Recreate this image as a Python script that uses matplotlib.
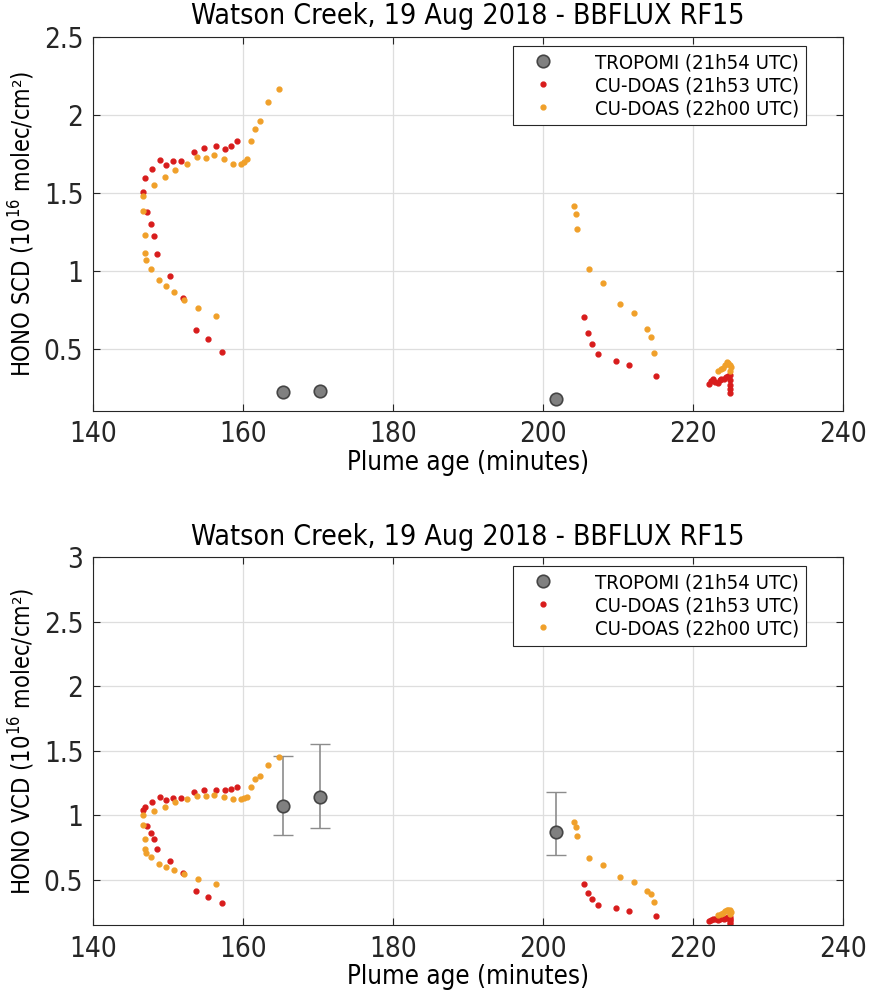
import matplotlib
matplotlib.use("Agg")
import matplotlib.pyplot as plt
from matplotlib.ticker import FormatStrFormatter, FixedLocator

plt.rcParams['font.family'] = ['DejaVu Sans']
plt.rcParams['font.stretch'] = 'condensed'

# TROPOMI overpass values (plume age in minutes)
trop_age = [165.3, 170.3, 201.8]
trop_scd = [0.222, 0.231, 0.180]
trop_vcd = [1.074, 1.140, 0.868]
trop_vcd_lo = [0.850, 0.900, 0.690]
trop_vcd_hi = [1.462, 1.550, 1.180]

# CU-DOAS, 21h53 UTC
red_age = [157.2, 155.4, 153.7, 152.0, 150.3, 148.6, 148.1, 147.7, 147.2, 146.7,
           146.97, 147.9, 148.9, 149.8, 150.7, 151.8, 153.5, 154.8, 156.4, 157.6,
           158.4, 159.2,
           205.5, 206.0, 206.6, 207.4, 209.7, 211.5, 215.1,
           222.1, 222.4, 222.7, 223.0, 223.3, 223.6, 223.8, 224.1, 224.4, 224.7,
           224.9, 224.9, 224.9, 224.9, 224.95]
red_scd = [0.481, 0.564, 0.624, 0.829, 0.970, 1.111, 1.222, 1.299, 1.378, 1.506,
           1.596, 1.654, 1.709, 1.680, 1.703, 1.705, 1.765, 1.790, 1.799, 1.782,
           1.803, 1.831,
           0.707, 0.602, 0.530, 0.465, 0.423, 0.397, 0.329,
           0.275, 0.295, 0.310, 0.290, 0.285, 0.300, 0.310, 0.305, 0.320, 0.330,
           0.335, 0.300, 0.270, 0.245, 0.220]
red_vcd = [0.318, 0.369, 0.411, 0.550, 0.648, 0.736, 0.814, 0.865, 0.917, 1.040,
           1.062, 1.100, 1.140, 1.121, 1.134, 1.136, 1.178, 1.196, 1.200, 1.194,
           1.204, 1.220,
           0.470, 0.400, 0.351, 0.302, 0.279, 0.258, 0.220,
           0.180, 0.190, 0.200, 0.195, 0.190, 0.200, 0.205, 0.200, 0.205, 0.210,
           0.215, 0.200, 0.185, 0.170, 0.155]

# CU-DOAS, 22h00 UTC
org_age = [164.8, 163.4, 162.3, 161.6, 161.1, 160.6, 160.1, 159.7, 158.7, 157.5,
           156.2, 155.1, 153.9, 152.5, 151.0, 149.6, 148.1, 146.7, 146.7, 146.9,
           147.0, 147.1, 147.7, 148.8, 149.8, 150.8, 152.1, 154.0, 156.4,
           204.1, 204.4, 204.6, 206.1, 208.0, 210.3, 212.1, 213.9, 214.4, 214.8,
           223.4, 223.7, 224.0, 224.3, 224.5, 224.7, 224.9, 225.05, 225.0]
org_scd = [2.164, 2.083, 1.963, 1.912, 1.833, 1.715, 1.696, 1.688, 1.683, 1.715,
           1.741, 1.726, 1.728, 1.683, 1.649, 1.600, 1.549, 1.483, 1.387, 1.228,
           1.113, 1.068, 1.013, 0.944, 0.904, 0.867, 0.816, 0.765, 0.709,
           1.419, 1.363, 1.267, 1.010, 0.923, 0.790, 0.731, 0.628, 0.580, 0.474,
           0.357, 0.370, 0.380, 0.395, 0.415, 0.410, 0.400, 0.385, 0.360]
org_vcd = [1.450, 1.390, 1.307, 1.279, 1.222, 1.144, 1.134, 1.126, 1.124, 1.144,
           1.160, 1.147, 1.150, 1.124, 1.100, 1.067, 1.036, 1.002, 0.925, 0.819,
           0.736, 0.710, 0.674, 0.625, 0.599, 0.576, 0.543, 0.506, 0.467,
           0.946, 0.909, 0.842, 0.669, 0.612, 0.522, 0.483, 0.416, 0.390, 0.330,
           0.225, 0.235, 0.245, 0.255, 0.265, 0.270, 0.265, 0.250, 0.235]

red_c = '#d81c1c'
org_c = '#f0a02a'
title = 'Watson Creek, 19 Aug 2018 - BBFLUX RF15'

fig = plt.figure(figsize=(8.69, 9.96), dpi=100)
ax1 = fig.add_axes([0.107, 0.5877, 0.863, 0.3752])
ax2 = fig.add_axes([0.107, 0.0713, 0.863, 0.369])


def style(ax, ylim, yticks, ylabel):
    ax.set_xlim(140, 240)
    ax.set_ylim(*ylim)
    ax.xaxis.set_major_locator(FixedLocator([140, 160, 180, 200, 220, 240]))
    ax.yaxis.set_major_locator(FixedLocator(yticks))
    ax.yaxis.set_major_formatter(FormatStrFormatter('%g'))
    ax.grid(True, color='#dedede', linewidth=0.9)
    ax.set_axisbelow(True)
    ax.tick_params(direction='in', top=True, right=True, labelsize=20,
                   length=5, width=0.8, colors='#262626', pad=7)
    for s in ax.spines.values():
        s.set_color('#262626')
        s.set_linewidth(0.8)
    ax.set_xlabel('Plume age (minutes)', fontsize=18.5, labelpad=1)
    ax.set_ylabel(ylabel, fontsize=17, labelpad=5)
    ax.set_title(title, fontsize=20.4, pad=9)


# SCD panel
ax1.plot(trop_age, trop_scd, 'o', ms=9, mfc='#808080', mec='#454545', mew=1.2,
         label='TROPOMI (21h54 UTC)', zorder=3)
ax1.plot(red_age, red_scd, '.', ms=7, color=red_c, label='CU-DOAS (21h53 UTC)')
ax1.plot(org_age, org_scd, '.', ms=7, color=org_c, label='CU-DOAS (22h00 UTC)')
style(ax1, (0.105, 2.5), [0.5, 1, 1.5, 2, 2.5],
      'HONO SCD (10$^{16}$ molec/cm²)')

# VCD panel
ax2.errorbar(trop_age, trop_vcd,
             yerr=[[v - lo for v, lo in zip(trop_vcd, trop_vcd_lo)],
                   [hi - v for v, hi in zip(trop_vcd, trop_vcd_hi)]],
             fmt='none', ecolor='#8c8c8c', elinewidth=1.2, capsize=7, zorder=2)
ax2.plot(trop_age, trop_vcd, 'o', ms=9, mfc='#808080', mec='#454545', mew=1.2,
         label='TROPOMI (21h54 UTC)', zorder=3)
ax2.plot(red_age, red_vcd, '.', ms=7, color=red_c, label='CU-DOAS (21h53 UTC)')
ax2.plot(org_age, org_vcd, '.', ms=7, color=org_c, label='CU-DOAS (22h00 UTC)')
style(ax2, (0.15, 3.0), [0.5, 1, 1.5, 2, 2.5, 3],
      'HONO VCD (10$^{16}$ molec/cm²)')

for ax in (ax1, ax2):
    leg = ax.legend(loc='upper right', bbox_to_anchor=(0.951, 0.976), fontsize=14.6,
                    fancybox=False, framealpha=1, edgecolor='#262626',
                    borderpad=0.35, borderaxespad=0, handletextpad=1.4,
                    labelspacing=0.2, handlelength=2.3)
    leg.get_frame().set_linewidth(0.8)

fig.savefig('out.png', dpi=100)
